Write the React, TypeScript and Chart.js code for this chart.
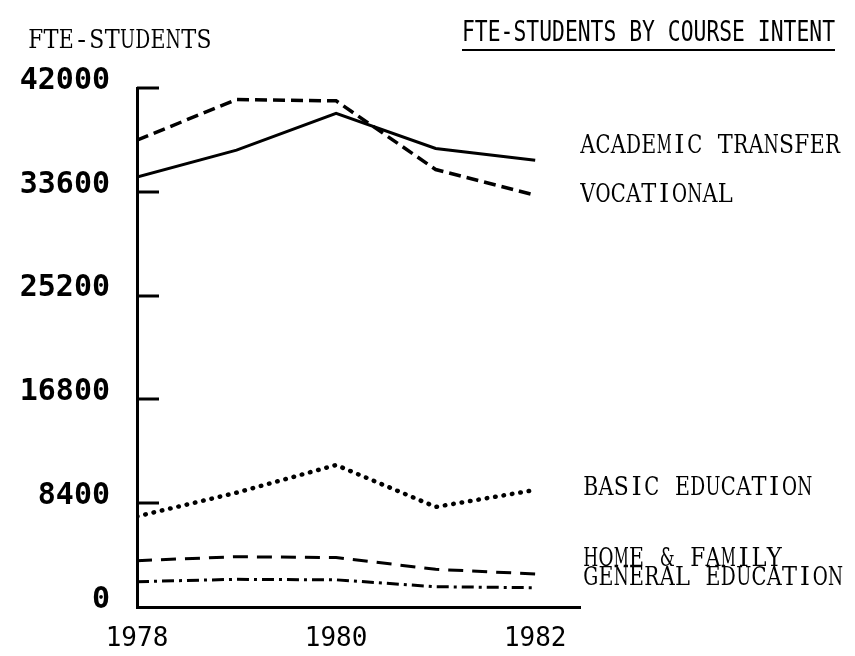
import React, { useEffect, useRef } from "react";
import { Chart, registerables } from "chart.js";
Chart.register(...registerables);

const years = [1978, 1979, 1980, 1981, 1982];
const academicTransfer = [34790, 36970, 39940, 37110, 36160];
const vocational = [37780, 41070, 40960, 35400, 33330];
const basicEducation = [7330, 9250, 11490, 8100, 9470];
const homeFamily = [3750, 4070, 4000, 3050, 2670];
const generalEducation = [2050, 2240, 2200, 1640, 1560];
const seriesNames = ["ACADEMIC TRANSFER", "VOCATIONAL", "BASIC EDUCATION", "HOME & FAMILY", "GENERAL EDUCATION"];
const labelValues = [37300, 33330, 9630, 3880, 2350];
const yTicks = [0, 8400, 16800, 25200, 33600, 42000];
const xTicks = [1978, 1980, 1982];
const yAxisTitle = "FTE-STUDENTS";
const chartTitle = "FTE-STUDENTS BY COURSE INTENT";

const toPoints = (arr: number[]) => years.map((x, i) => ({ x, y: arr[i] }));

const ADV = 15.3;
function drawMono(ctx: CanvasRenderingContext2D, text: string, x: number, y: number) {
  ctx.textAlign = "center";
  for (let i = 0; i < text.length; i++) {
    const ch = text[i];
    if (ch === " ") continue;
    ctx.fillText(ch, x + ADV * (i + 0.5), y, ADV - 0.3);
  }
}

const textPlugin = {
  id: "textPlugin",
  afterDraw(chart: any) {
    const ctx = chart.ctx as CanvasRenderingContext2D;
    const ys = chart.scales.y;
    const area = chart.chartArea;
    ctx.save();
    // inward tick marks
    ctx.strokeStyle = "#000";
    ctx.lineWidth = 3;
    yTicks.forEach((v) => {
      if (v === 0) return;
      const py = Math.round(ys.getPixelForValue(v));
      ctx.beginPath();
      ctx.moveTo(area.left, py);
      ctx.lineTo(area.left + 22, py);
      ctx.stroke();
    });
    // series labels (typewriter style)
    ctx.fillStyle = "#000";
    ctx.textBaseline = "middle";
    ctx.font = "26px 'DejaVu Serif'";
    seriesNames.forEach((name, i) => {
      const py = ys.getPixelForValue(labelValues[i]);
      drawMono(ctx, name, area.right + (i >= 2 ? 3 : 0), py);
    });
    // axis title
    drawMono(ctx, yAxisTitle, 28, 41);
    // chart title, underlined
    ctx.textAlign = "left";
    ctx.font = "28px 'DejaVu Sans Mono'";
    ctx.fillText(chartTitle, 462, 34, 373);
    ctx.lineWidth = 2;
    ctx.beginPath();
    ctx.moveTo(462, 50);
    ctx.lineTo(835, 50);
    ctx.stroke();
    ctx.restore();
  },
};

export default function App() {
  const ref = useRef<HTMLCanvasElement>(null);
  useEffect(() => {
    if (!ref.current) return;
    const common = { pointRadius: 0, tension: 0, borderColor: "#000", fill: false };
    const chart = new Chart(ref.current, {
      type: "line",
      data: {
        datasets: [
          { ...common, label: seriesNames[0], data: toPoints(academicTransfer), borderWidth: 3 },
          { ...common, label: seriesNames[1], data: toPoints(vocational), borderWidth: 3.5, borderDash: [12, 6] },
          { ...common, label: seriesNames[2], data: toPoints(basicEducation), borderWidth: 4.5, borderDash: [0.5, 8], borderCapStyle: "round" },
          { ...common, label: seriesNames[3], data: toPoints(homeFamily), borderWidth: 3, borderDash: [15, 9] },
          { ...common, label: seriesNames[4], data: toPoints(generalEducation), borderWidth: 3, borderDash: [12, 5, 3, 5] },
        ] as any,
      },
      options: {
        animation: false,
        responsive: false,
        layout: { padding: { left: 12, right: 275, top: 88, bottom: 0 } },
        plugins: { legend: { display: false }, tooltip: { enabled: false } },
        scales: {
          x: {
            type: "linear",
            min: 1978,
            max: 1982.45,
            afterBuildTicks: (s: any) => { s.ticks = xTicks.map((v) => ({ value: v })); },
            afterFit: (s: any) => { s.height = 49; },
            grid: { display: false, drawTicks: false },
            border: { display: true, color: "#000", width: 3 },
            ticks: {
              color: "#000",
              padding: 17,
              maxRotation: 0,
              font: { family: "'DejaVu Sans Mono'", size: 26 },
              callback: (v: any) => String(v),
            },
          },
          y: {
            min: 0,
            max: 42000,
            afterBuildTicks: (s: any) => { s.ticks = yTicks.map((v) => ({ value: v })); },
            afterFit: (s: any) => { s.width = 125; },
            grid: { display: false, drawTicks: false },
            border: { display: true, color: "#000", width: 3 },
            ticks: {
              color: "#000",
              padding: 27,
              labelOffset: -7,
              font: { family: "'DejaVu Sans Mono'", size: 30, weight: "bold" },
              callback: (v: any) => String(v),
            },
          },
        },
      } as any,
      plugins: [textPlugin],
    });
    return () => chart.destroy();
  }, []);
  return (
    <div style={{ position: "fixed", left: 0, top: 0, width: 855, height: 656, background: "#fff" }}>
      <canvas ref={ref} width={855} height={656} />
    </div>
  );
}
